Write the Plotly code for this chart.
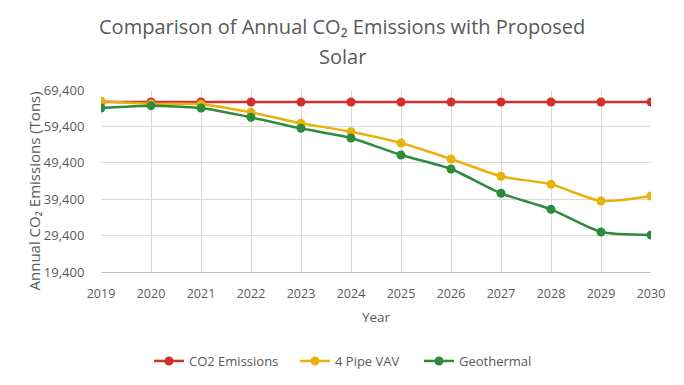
import plotly.graph_objects as go

years = [2019, 2020, 2021, 2022, 2023, 2024, 2025, 2026, 2027, 2028, 2029, 2030]
co2_emissions = [66100] * 12
pipe_vav = [66300, 65600, 65500, 63270, 60250, 57950, 54840, 50450, 45690, 43490, 38900, 40280]
geothermal = [64450, 65090, 64450, 61900, 58870, 56210, 51540, 47700, 41020, 36620, 30390, 29570]
y_ticks = [19400, 29400, 39400, 49400, 59400, 69400]

series = [
    ("CO2 Emissions", co2_emissions, "#D0312D"),
    ("4 Pipe VAV", pipe_vav, "#E9B10C"),
    ("Geothermal", geothermal, "#2E8B3E"),
]

gray = "#595959"
W, H = 668, 369
L, R, T, B = 93, 25, 82, 105
pw, ph = W - L - R, H - T - B


def px_x(p):
    return (p - L) / pw


def px_y(p):
    return 1 + (T - p) / ph


legend_ids = ["legend", "legend2", "legend3"]
legend_left_px = [141, 287, 411]

fig = go.Figure()
for (name, vals, col), lid in zip(series, legend_ids):
    fig.add_trace(go.Scatter(
        x=years, y=vals, name=name, mode="lines+markers",
        line=dict(color=col, width=2.5, shape="spline", smoothing=0.6),
        marker=dict(color=col, size=9),
        legend=lid,
    ))

legend_layout = {}
for lid, lx in zip(legend_ids, legend_left_px):
    legend_layout[lid] = dict(
        orientation="h", x=px_x(lx), xanchor="left", y=px_y(353), yanchor="middle",
        font=dict(size=13, color=gray), bgcolor="rgba(0,0,0,0)", itemwidth=30,
    )

fig.update_layout(
    width=W, height=H,
    margin=dict(l=L, r=R, t=T, b=B, autoexpand=False),
    paper_bgcolor="white", plot_bgcolor="white",
    font=dict(family="Open Sans, Calibri, sans-serif", color=gray, size=12),
    xaxis=dict(range=[2019, 2030], tickmode="array", tickvals=years,
               showgrid=True, gridcolor="#D9D9D9", gridwidth=1,
               showline=True, linecolor="#BFBFBF", linewidth=1,
               ticks="outside", ticklen=10, tickcolor="rgba(0,0,0,0)",
               zeroline=False, tickfont=dict(size=12.5, color=gray),
               automargin=False,
               title=dict(text="Year", font=dict(size=13.5, color=gray), standoff=11)),
    yaxis=dict(range=[19400, 69400], tickmode="array", tickvals=y_ticks,
               tickformat=",", showgrid=True, gridcolor="#D9D9D9", gridwidth=1,
               zeroline=False, ticks="outside", ticklen=13, tickcolor="rgba(0,0,0,0)",
               tickfont=dict(size=13, color=gray), automargin=False),
    showlegend=True,
    annotations=[
        dict(text="Comparison of Annual CO₂ Emissions with Proposed",
             x=px_x(W / 2), y=px_y(19), xref="paper", yref="paper",
             xanchor="center", yanchor="middle", showarrow=False,
             font=dict(size=20, color=gray)),
        dict(text="Solar", x=px_x(W / 2), y=px_y(49), xref="paper", yref="paper",
             xanchor="center", yanchor="middle", showarrow=False,
             font=dict(size=20, color=gray)),
        dict(text="Annual CO₂ Emissions (Tons)", x=px_x(25.5), y=px_y(183),
             xref="paper", yref="paper", xanchor="center", yanchor="middle",
             textangle=-90, showarrow=False, font=dict(size=15, color=gray)),
    ],
    **legend_layout,
)

fig.write_html("out.html")
